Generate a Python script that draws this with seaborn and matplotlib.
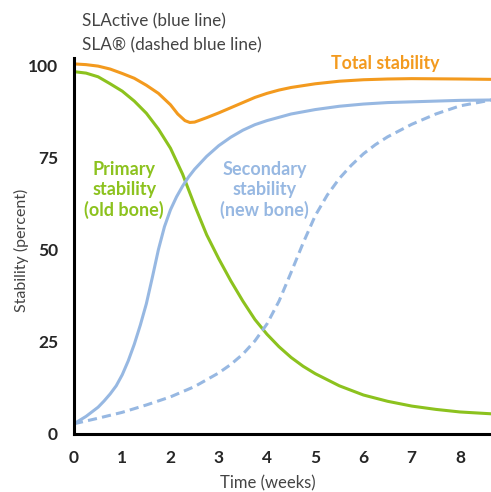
import numpy as np
import pandas as pd
import seaborn as sns
from matplotlib import pyplot as plt

# ---- data ----
weeks_primary = [0, 0.25, 0.5, 0.75, 1.0, 1.25, 1.5, 1.75, 2.0, 2.25, 2.5, 2.75, 3.0,
                 3.25, 3.5, 3.75, 4.0, 4.25, 4.5, 4.75, 5.0, 5.5, 6.0, 6.5, 7.0, 7.5,
                 8.0, 8.65]
primary = [98.3, 97.9, 96.9, 95.0, 93.0, 90.3, 87.0, 82.7, 77.5, 70.5, 62.0, 54.0, 47.5,
           41.5, 36.0, 31.0, 27.0, 23.6, 20.7, 18.3, 16.3, 13.0, 10.5, 8.8, 7.5, 6.6,
           5.9, 5.4]

weeks_slactive = [0, 0.25, 0.5, 0.625, 0.75, 0.875, 1.0, 1.125, 1.25, 1.375, 1.5, 1.625,
                  1.75, 1.875, 2.0, 2.125, 2.25, 2.375, 2.5, 2.75, 3.0, 3.25, 3.5, 3.75,
                  4.0, 4.5, 5.0, 5.5, 6.0, 6.5, 7.0, 7.5, 8.0, 8.65]
slactive = [2.7, 4.7, 7.2, 8.9, 10.8, 13.0, 16.0, 19.8, 24.3, 29.5, 35.3, 42.5,
            50.0, 56.2, 60.8, 64.3, 67.2, 69.7, 71.8, 75.3, 78.2, 80.5, 82.4, 83.9,
            85.0, 86.8, 88.0, 88.9, 89.5, 89.9, 90.1, 90.3, 90.5, 90.6]

weeks_sla = [0, 0.5, 1.0, 1.5, 2.0, 2.5, 3.0, 3.25, 3.5, 3.75, 4.0, 4.25, 4.5, 4.75,
             5.0, 5.25, 5.5, 5.75, 6.0, 6.25, 6.5, 7.0, 7.5, 8.0, 8.65]
sla = [2.7, 4.2, 5.8, 7.8, 10.0, 12.8, 16.5, 18.8, 21.6, 25.2, 29.8, 36.0, 43.8, 51.8,
       59.2, 64.8, 69.3, 72.9, 76.0, 78.5, 80.6, 84.0, 86.8, 89.0, 90.6]

weeks_total = [0, 0.25, 0.5, 0.75, 1.0, 1.25, 1.5, 1.75, 2.0, 2.15, 2.3, 2.4, 2.5, 2.75,
               3.0, 3.25, 3.5, 3.75, 4.0, 4.25, 4.5, 5.0, 5.5, 6.0, 6.5, 7.0, 8.0, 8.65]
total = [100.4, 100.2, 99.8, 99.0, 97.8, 96.5, 94.6, 92.4, 89.3, 86.8, 85.0, 84.5, 84.6, 85.8,
         87.1, 88.5, 89.9, 91.3, 92.4, 93.3, 94.0, 95.0, 95.7, 96.1, 96.3, 96.4, 96.3, 96.2]

x_ticks = [0, 1, 2, 3, 4, 5, 6, 7, 8]
y_ticks = [0, 25, 50, 75, 100]

ORANGE = '#F39A1E'
GREEN = '#8CC21E'
BLUE = '#97B8E2'
GREY = '#444444'

sns.set_style('white')
plt.rcParams['font.family'] = ['Lato', 'DejaVu Sans']

fig = plt.figure(figsize=(4.91, 4.92), dpi=100)
ax = fig.add_axes([0.1507, 0.1185, 0.849, 0.7636])

lw = 2.2
sns.lineplot(x=weeks_total, y=total, ax=ax, color=ORANGE, lw=lw)
sns.lineplot(x=weeks_primary, y=primary, ax=ax, color=GREEN, lw=lw)
sns.lineplot(x=weeks_slactive, y=slactive, ax=ax, color=BLUE, lw=lw)
sns.lineplot(x=weeks_sla, y=sla, ax=ax, color=BLUE, lw=lw)
ax.lines[-1].set_dashes([3.0, 1.7])
for ln in ax.lines:
    ln.set_solid_capstyle('round')

ax.set_xlim(0, 8.64)
ax.set_ylim(0, 102)
ax.set_xticks(x_ticks)
ax.set_yticks(y_ticks)
ax.tick_params(direction='out', length=8, width=2, pad=3.5, labelsize=12.5)
for lab in ax.get_xticklabels() + ax.get_yticklabels():
    lab.set_fontweight('bold')
for s in ['top', 'right']:
    ax.spines[s].set_visible(False)
for s in ['left', 'bottom']:
    ax.spines[s].set_linewidth(2.2)
    ax.spines[s].set_color('black')
    ax.spines[s].set_zorder(5)

ax.set_xlabel('Time (weeks)', fontsize=12, color=GREY, va='center')
ax.xaxis.set_label_coords(0.464, -0.131)
ax.set_ylabel('Stability (percent)', fontsize=11.5, color=GREY, va='center')
ax.yaxis.set_label_coords(-0.125, 0.489)

# curve labels
ax.text(6.45, 100.6, 'Total stability', color=ORANGE, fontsize=12.8, fontweight='bold',
        ha='center', va='center')
ax.text(1.04, 66.2, 'Primary\nstability\n(old bone)', color=GREEN, fontsize=13,
        fontweight='bold', ha='center', va='center', linespacing=1.22)
ax.text(3.95, 66.2, 'Secondary\nstability\n(new bone)', color=BLUE, fontsize=13,
        fontweight='bold', ha='center', va='center', linespacing=1.22)

fig.text(82 / 491, 1 - 21 / 492, 'SLActive (blue line)', fontsize=12.3, color=GREY, va='center')
fig.text(82 / 491, 1 - 45 / 492, 'SLA® (dashed blue line)', fontsize=12.3, color=GREY, va='center')

fig.savefig('out.png', dpi=100)
